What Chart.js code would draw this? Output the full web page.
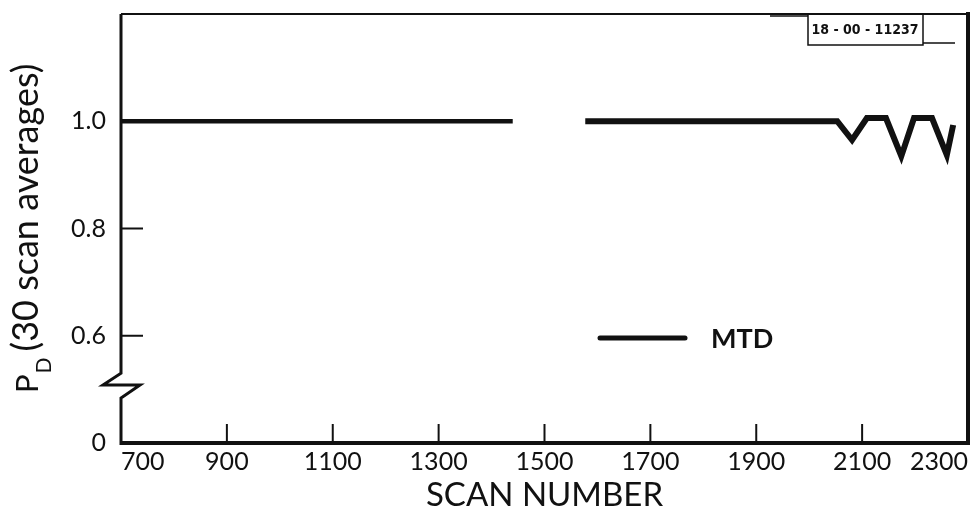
<!DOCTYPE html>
<html>
<head>
<meta charset="utf-8">
<title>Scan number vs PD</title>
<script src="https://cdn.jsdelivr.net/npm/chart.js@4.4.0/dist/chart.umd.min.js"></script>
<style>
    html, body { margin: 0; padding: 0; background: #fff; }
</style>
</head>
<body>
<canvas id="chart" width="980" height="527"></canvas>
<script>
// Datos (null = hueco en la curva)
const scanNumbers = [700, 1440, 1508, 1577, 2053, 2081, 2109, 2145, 2174, 2198, 2232, 2260, 2272];
const pdValues    = [1.0, 1.0, null, 1.0, 1.0, 0.965, 1.006, 1.006, 0.935, 1.006, 1.006, 0.937, 0.993];
const xTickValues = [700, 900, 1100, 1300, 1500, 1700, 1900, 2100, 2300];
const yTickValues = [0.4, 0.6, 0.8, 1.0];
const yTickLabels = ['0', '0.6', '0.8', '1.0'];
const seriesName = 'MTD';
const stampText = '18 - 00 - 11237';

const INK = '#111';
const FONT = 'Lato, "Open Sans", sans-serif';

// Marco, corte del eje Y, marcas interiores, leyenda y título del eje Y
const framePlugin = {
    id: 'frame',
    afterDraw(chart) {
        const ctx = chart.ctx;
        const { left, right, top, bottom } = chart.chartArea;
        const x = chart.scales.x;
        const y = chart.scales.y;
        ctx.save();
        ctx.strokeStyle = INK;
        ctx.lineCap = 'butt';

        // eje izquierdo con el corte
        const b1 = y.getPixelForValue(0.53);
        const b2 = y.getPixelForValue(0.508);
        const b3 = y.getPixelForValue(0.484);
        ctx.lineWidth = 3;
        ctx.lineJoin = 'miter';
        ctx.beginPath();
        ctx.moveTo(left, top);
        ctx.lineTo(left, b1);
        ctx.lineTo(left - 18, b2);
        ctx.lineTo(left + 19, b2);
        ctx.lineTo(left, b3);
        ctx.lineTo(left, bottom + 2);
        ctx.stroke();

        // eje inferior
        ctx.lineWidth = 4;
        ctx.beginPath();
        ctx.moveTo(left - 1, bottom);
        ctx.lineTo(right + 2, bottom);
        ctx.stroke();

        // borde superior y derecho
        ctx.lineWidth = 2;
        ctx.beginPath();
        ctx.moveTo(left, top);
        ctx.lineTo(right, top);
        ctx.stroke();
        ctx.lineWidth = 4;
        ctx.beginPath();
        ctx.moveTo(right, top - 2);
        ctx.lineTo(right, bottom);
        ctx.stroke();

        // marcas interiores
        ctx.lineWidth = 2;
        [0.6, 0.8].forEach(v => {
            const py = y.getPixelForValue(v);
            ctx.beginPath();
            ctx.moveTo(left, py);
            ctx.lineTo(left + 22, py);
            ctx.stroke();
        });
        xTickValues.slice(1, -1).forEach(v => {
            const px = x.getPixelForValue(v);
            ctx.beginPath();
            ctx.moveTo(px, bottom);
            ctx.lineTo(px, bottom - 19);
            ctx.stroke();
        });

        // sello con el número de figura
        ctx.lineWidth = 1.5;
        ctx.strokeRect(808, top, 115, 31);
        ctx.beginPath();
        ctx.moveTo(770, top + 2);
        ctx.lineTo(808, top + 2);
        ctx.moveTo(923, top + 29);
        ctx.lineTo(955, top + 29);
        ctx.stroke();
        ctx.fillStyle = INK;
        ctx.font = 'bold 14px "DejaVu Sans Condensed", "DejaVu Sans", sans-serif';
        ctx.textAlign = 'center';
        ctx.textBaseline = 'middle';
        ctx.fillText(stampText, 865, top + 16);

        // leyenda
        const ly = y.getPixelForValue(0.596);
        ctx.lineWidth = 5;
        ctx.lineCap = 'round';
        ctx.beginPath();
        ctx.moveTo(left + 479, ly);
        ctx.lineTo(left + 564, ly);
        ctx.stroke();
        ctx.font = 'bold 27px ' + FONT;
        ctx.textAlign = 'left';
        ctx.fillText(seriesName, left + 590, ly + 1);

        // título del eje Y con subíndice
        ctx.translate(38, 393);
        ctx.rotate(-Math.PI / 2);
        ctx.textBaseline = 'alphabetic';
        ctx.font = '31px ' + FONT;
        ctx.fillText('P', 0, 0);
        const pw = ctx.measureText('P').width;
        ctx.font = '21px ' + FONT;
        ctx.fillText('D', pw + 1, 13);
        const dw = ctx.measureText('D').width;
        const rest = '(30 scan averages)';
        ctx.font = '31px ' + FONT;
        const size = Math.min(36, 31 * 312 / ctx.measureText(rest).width);
        ctx.font = size.toFixed(1) + 'px ' + FONT;
        ctx.fillText(rest, pw + dw + 7, 0);

        ctx.restore();
    }
};

const ctx = document.getElementById('chart');

new Chart(ctx, {
    type: 'line',
    data: {
        datasets: [{
            label: seriesName,
            data: scanNumbers.map((s, i) => ({ x: s, y: pdValues[i] })),
            borderColor: INK,
            borderWidth: 4.5,
            pointRadius: 0,
            tension: 0,
            spanGaps: false,
            segment: {
                borderWidth: c => c.p0.parsed.x > 1500 ? 6 : 4.5
            }
        }]
    },
    options: {
        responsive: false,
        animation: false,
        layout: {
            padding: { top: 14, right: 12, left: 0, bottom: 0 }
        },
        plugins: {
            legend: { display: false },
            tooltip: { enabled: false }
        },
        scales: {
            x: {
                type: 'linear',
                min: 700,
                max: 2300,
                afterBuildTicks: s => { s.ticks = xTickValues.map(v => ({ value: v })); },
                afterFit: s => { s.height = 84; s.paddingLeft = 0; s.paddingRight = 0; },
                grid: { display: false },
                border: { display: false },
                ticks: {
                    color: INK,
                    font: { family: FONT, size: 25 },
                    padding: -4,
                    align: 'inner',
                    maxRotation: 0,
                    autoSkip: false,
                    callback: v => String(v)
                },
                title: {
                    display: true,
                    text: 'SCAN NUMBER',
                    color: INK,
                    font: { family: FONT, size: 33 },
                    padding: { top: 0, bottom: 12 }
                }
            },
            y: {
                min: 0.4,
                max: 1.2,
                afterBuildTicks: s => { s.ticks = yTickValues.map(v => ({ value: v })); },
                afterFit: s => { s.width = 121; s.paddingTop = 0; s.paddingBottom = 0; },
                grid: { display: false },
                border: { display: false },
                ticks: {
                    color: INK,
                    font: { family: FONT, size: 25 },
                    padding: 7,
                    callback: v => yTickLabels[yTickValues.indexOf(v)]
                }
            }
        }
    },
    plugins: [framePlugin]
});
</script>
</body>
</html>
